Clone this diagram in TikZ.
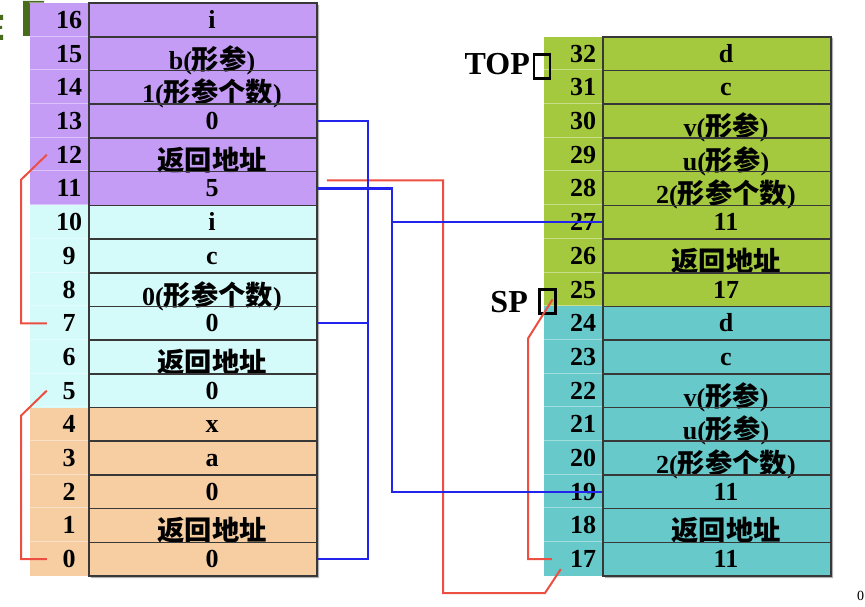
\documentclass[tikz,border=0pt]{standalone}
\usepackage{fontspec}
\setmainfont{Liberation Serif}
\newfontfamily\cjk[Scale=1.05]{Noto Sans CJK SC}
\usetikzlibrary{calc}
\definecolor{fpurple}{RGB}{197,156,245}
\definecolor{fcyan}{RGB}{213,250,250}
\definecolor{fpeach}{RGB}{246,206,162}
\definecolor{fgreen}{RGB}{164,200,62}
\definecolor{fteal}{RGB}{103,201,201}
\definecolor{linkblue}{RGB}{35,35,238}
\definecolor{linkred}{RGB}{236,78,66}
\definecolor{titlegreen}{RGB}{72,108,28}
\newcommand\zh[1]{{\cjk #1}}
\newcommand\low[1]{\raisebox{-7pt}{#1}}
\newcommand\retaddr{\low{\zh{返回地址}}}
\newcommand\formal[1]{\low{#1(\zh{形参})}}
\newcommand\nargs[1]{\low{#1(\zh{形参个数})}}
\begin{document}
\begin{tikzpicture}[x=1pt,y=-1pt,
  cell/.style={draw=black!78,line width=1.6pt,minimum width=228pt,minimum height=33.7pt,inner sep=0pt},
  idx/.style={font=\fontsize{26}{26}\selectfont\bfseries,text height=22pt,text depth=5pt,inner sep=0pt,minimum width=44pt},
  val/.style={idx,minimum width=0pt},
  pointer/.style={font=\fontsize{32}{32}\selectfont\bfseries,inner sep=0pt},
  tofu/.style={draw,line width=2.6pt,minimum width=16pt,minimum height=24pt,inner sep=0pt},
  faint/.style={draw=white,opacity=.4,line width=.8pt},
  bluelink/.style={draw=linkblue,line width=2.4pt},
  redlink/.style={draw=linkred,line width=2pt}]
\useasboundingbox (0,0) rectangle (865,607);
% cut-off title
\fill[titlegreen] (23,1) rectangle (31,36) (23,1) rectangle (44,4);
\fill[titlegreen] (0,15) rectangle (3,20) (0,26) rectangle (2,29) (0,35) rectangle (3,40);
% shadows and colour bands
\fill[black!30] (91,5) rectangle (319,578) (605,38) rectangle (833,578);
\fill[fpurple] (30,3.1) rectangle (317,205.3);
\fill[fcyan] (30,205.3) rectangle (317,407.5);
\fill[fpeach] (30,407.5) rectangle (317,576);
\fill[fgreen] (544,36.8) rectangle (831,306.4);
\fill[fteal] (544,306.4) rectangle (831,576);
% left stack
\foreach \k/\v in {16/i,15/\formal{b},14/\nargs{1},13/0,12/\retaddr,11/5,
  10/i,9/c,8/\nargs{0},7/0,6/\retaddr,5/0,4/x,3/a,2/0,1/\retaddr,0/0}{
  \pgfmathsetmacro\rowy{576-33.7*\k-16.85}
  \node[cell] (L\k) at (203,\rowy) {};
  \draw[faint] ([xshift=-59pt]L\k.north west) -- (L\k.north west);
  \node[idx] (L\k i) at (69,\rowy) {\k};
  \node[val] (L\k v) at (212,\rowy) {\v};
}
% right stack
\foreach \k/\v in {32/d,31/c,30/\formal{v},29/\formal{u},28/\nargs{2},27/11,26/\retaddr,25/17,
  24/d,23/c,22/\formal{v},21/\formal{u},20/\nargs{2},19/11,18/\retaddr,17/11}{
  \pgfmathsetmacro\rowy{576-33.7*(\k-17)-16.85}
  \node[cell] (R\k) at (717,\rowy) {};
  \draw[faint] ([xshift=-59pt]R\k.north west) -- (R\k.north west);
  \node[idx] (R\k i) at (583,\rowy) {\k};
  \node[val] (R\k v) at (726,\rowy) {\v};
}
% pointers
\node[pointer,anchor=base east] (toplbl) at (530,75) {TOP};
\node[tofu] (topbox) at (542,66.5) {};
\node[pointer,anchor=base east] (splbl) at (528,312) {SP};
\node[tofu] (spbox) at (547.5,301.5) {};
\node[font=\fontsize{14}{14}\selectfont,anchor=west,inner sep=0pt] (pageno) at (857,596) {0};
% links
\coordinate (busA) at (368,0);
\coordinate (busB) at (392,0);
\coordinate (busC) at (443,0);
\coordinate (busD) at (528,0);
\coordinate (busL) at (21,0);
\coordinate (low) at (0,593);
\draw[redlink] (L12i.west) -- ([yshift=-25pt]L12i.west -| busL) -- (L7i.west -| busL) -- (L7i.west);
\draw[redlink] (L5i.west) -- ([yshift=-25pt]L5i.west -| busL) -- (L0i.west -| busL) -- (L0i.west);
\draw[redlink] ([xshift=9pt,yshift=8pt]L11.east) -| (busC |- low) -- ++(102,0) -- ([yshift=-10pt]R17i.west);
\draw[redlink] ([xshift=5pt,yshift=2pt]spbox.center) -- ([yshift=-37pt]spbox.center -| busD)
  -- (R17i.west -| busD) -- ([xshift=-9pt]R17i.west);
\draw[bluelink] (L13.east) -- (L13.east -| busA) -- (L0.east -| busA) -- (L0.east);
\draw[bluelink] (L7.east) -- (L7.east -| busA);
\draw[bluelink] (L11.east) -- (L11.east -| busB) -- (R19.west -| busB) -- (R19.west);
\draw[bluelink] (R27.west -| busB) -- (R27.west);
\end{tikzpicture}
\end{document}
